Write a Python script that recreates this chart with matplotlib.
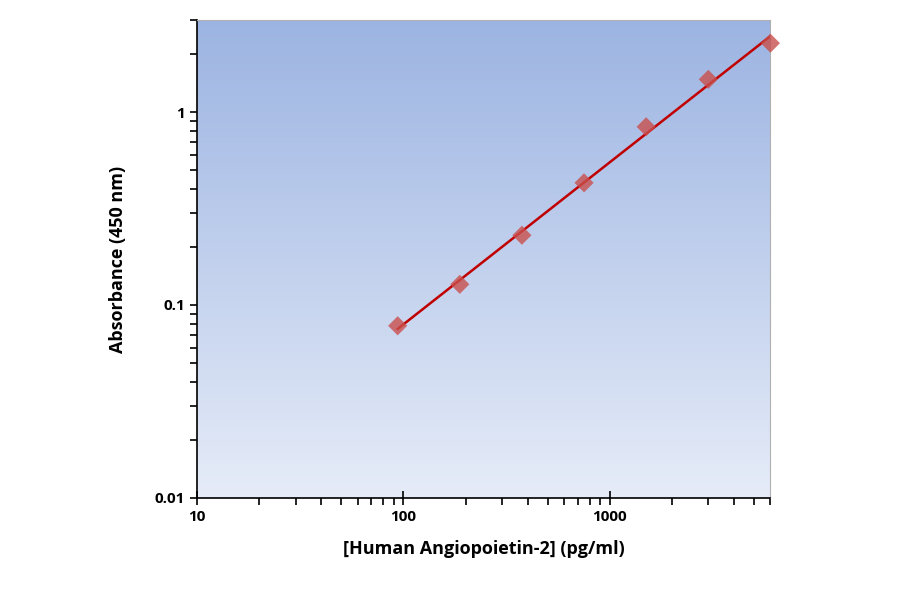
import numpy as np
import matplotlib
matplotlib.use("Agg")
import matplotlib.pyplot as plt
from matplotlib.colors import LinearSegmentedColormap

conc = [93.75, 187.5, 375, 750, 1500, 3000, 6000]
absorb = [0.078, 0.128, 0.23, 0.43, 0.84, 1.48, 2.28]

plt.rcParams['font.family'] = ['Open Sans', 'DejaVu Sans']
fig = plt.figure(figsize=(9, 5.94), dpi=100)
ax = fig.add_axes([0.219, 0.162, 0.637, 0.804])
ax.set_xscale('log'); ax.set_yscale('log')
ax.set_xlim(10, 6000); ax.set_ylim(0.01, 3)

cmap = LinearSegmentedColormap.from_list('bg', ['#e6ecf8', '#9cb4e2'])
grad = np.linspace(0, 1, 256).reshape(-1, 1)
ax.imshow(grad, aspect='auto', cmap=cmap, origin='lower',
          extent=[0, 1, 0, 1], transform=ax.transAxes, zorder=0)

lx, ly = np.log10(conc), np.log10(absorb)
k, b = np.polyfit(lx, ly, 1)
xf = np.logspace(lx[0], lx[-1], 100)
ax.plot(xf, 10**(k*np.log10(xf)+b), color='#c00000', lw=1.8, zorder=2)
ax.scatter(conc, absorb, marker='D', s=95, color='#c9504d', alpha=0.8,
           edgecolors='none', zorder=3, clip_on=False)

for s in ['top', 'right']:
    ax.spines[s].set_color('#b0b0b0'); ax.spines[s].set_linewidth(0.8)
for s in ['left', 'bottom']:
    ax.spines[s].set_linewidth(1.2)
ax.tick_params(axis='x', which='major', direction='inout', length=10, width=1.2)
ax.tick_params(axis='x', which='minor', direction='out', length=5, width=1.2)
ax.tick_params(axis='y', which='major', direction='out', length=5, width=1.2)
ax.tick_params(axis='y', which='minor', direction='out', length=5, width=1.2)
ax.set_xticks([10, 100, 1000]); ax.set_xticklabels(['10', '100', '1000'])
ax.set_yticks([0.01, 0.1, 1]); ax.set_yticklabels(['0.01', '0.1', '1'])
ax.yaxis.set_minor_formatter(plt.NullFormatter())
ax.xaxis.set_minor_formatter(plt.NullFormatter())
for lab in ax.get_xticklabels() + ax.get_yticklabels():
    lab.set_fontweight('bold'); lab.set_fontsize(11)
ax.set_xlabel('[Human Angiopoietin-2] (pg/ml)', fontsize=13, fontweight='bold', labelpad=12)
ax.set_ylabel('Absorbance (450 nm)', fontsize=13, fontweight='bold', labelpad=20)
fig.savefig('out.png', dpi=100, facecolor='white')
